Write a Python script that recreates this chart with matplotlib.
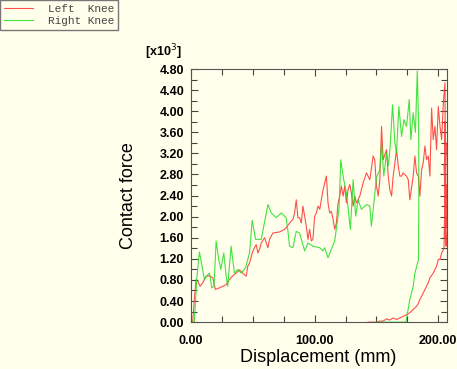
import matplotlib
matplotlib.use("Agg")
import matplotlib.pyplot as plt
from matplotlib.ticker import MultipleLocator, FuncFormatter

# Right knee (green): loading path, then unloading back to zero
right_x = [0, 2.7, 4.6, 6.8, 8.9, 10.8, 13.5, 14.9, 16.8, 18.6, 20.3, 22.4, 24.1, 26.5,
           28.4, 29.7, 32.4, 35.1, 37.8, 40.5, 44.1, 47.3, 49.5, 52.2, 56.8, 62.2, 64.9,
           68.9, 73.0, 77.0, 78.4, 79.7, 82.4, 85.1, 87.8, 91.9, 94.6, 98.6, 104.1, 106.8,
           108.1, 110.8, 116.2, 119.7, 121.1, 123.5, 125.7, 128.9, 131.1, 133.2, 135.1,
           137.8, 141.9, 144.6, 145.9, 150.0, 152.7, 154.1, 155.9, 158.1, 159.5, 161.0,
           163.0, 164.9, 166.2, 168.1, 170.3, 172.2, 174.3, 176.5, 177.8, 179.7, 181.5,
           183.0, 184.1, 184.3, 184.0, 181.1, 179.7, 177.0, 175.1, 173.8, 150.0]
right_y = [0, 0, 0.81, 1.33, 1.06, 0.81, 0.90, 0.93, 0.65, 0.68, 1.54, 1.19, 1.00, 1.31,
           0.87, 0.68, 1.44, 0.93, 1.00, 0.93, 1.03, 1.31, 1.93, 1.57, 1.57, 2.23, 2.07,
           1.98, 2.07, 1.98, 1.72, 1.44, 1.41, 1.72, 1.69, 1.35, 1.50, 1.44, 1.41, 1.35,
           1.41, 1.22, 1.54, 2.14, 3.08, 2.70, 2.45, 1.76, 2.70, 2.01, 2.32,
           2.14, 2.23, 2.20, 1.82, 2.74, 2.89, 3.40, 2.77, 3.21, 2.96, 3.30,
           4.12, 3.40, 3.21, 4.09, 3.52, 3.84, 3.71, 4.22, 3.46, 3.97, 3.60,
           4.76, 3.71, 2.58, 1.19, 0.93, 0.68, 0.43, 0.18, 0.0, 0.0]

# Left knee (red): loading path, oscillation at max displacement, unloading
left_x = [0, 1.4, 2.7, 4.1, 5.4, 7.3, 9.5, 12.2, 14.9, 17.6, 19.7, 23.0, 28.4, 31.1, 33.8,
          36.5, 39.2, 41.9, 44.6, 45.9, 47.3, 50.0, 52.7, 54.1, 55.4, 56.8, 59.5, 62.2,
          63.5, 66.2, 71.6, 75.7, 77.0, 79.7, 82.4, 83.8, 85.1, 86.5, 87.8, 89.2, 90.5,
          91.9, 93.2, 94.6, 95.9, 97.3, 98.6, 100.0, 101.4, 102.7, 104.1, 105.4, 106.8,
          109.5, 110.8, 112.2, 113.5, 114.9, 116.2, 117.6, 118.9, 120.3, 121.6, 123.0,
          124.3, 125.7, 127.0, 128.4, 129.7, 131.1, 132.4, 133.8, 136.5, 139.2, 141.9,
          144.6, 147.3, 148.6, 150.0, 151.4, 152.7, 154.1, 155.4, 158.1, 159.5, 160.8,
          162.2, 163.5, 164.9, 166.2, 167.6, 168.9, 170.3, 171.6, 174.3, 175.7, 177.0,
          179.7, 181.1, 182.4, 183.8, 185.1, 186.5, 187.8, 189.2, 190.5, 191.9, 193.2,
          194.6, 195.9, 197.3, 198.6, 200.0, 201.4, 202.7, 204.1, 205.4, 206.0, 205.2,
          206.5, 204.8, 206.3, 205.0, 206.6, 205.6, 206.2, 204.6, 203.6, 202.7, 201.4,
          200.0, 198.6, 197.3, 195.9, 193.2, 191.9, 190.5, 188.0, 186.5, 185.1, 183.8,
          182.4, 179.7, 177.0, 174.3, 171.6, 168.9, 166.2, 163.5, 160.8, 158.1, 155.4,
          152.7, 150.0, 143.2]
left_y = [0, 0.02, 0.43, 0.81, 0.78, 0.68, 0.75, 0.87, 0.88, 0.84, 0.62, 0.65, 0.71, 0.81,
          0.88, 0.93, 0.99, 0.93, 0.87, 1.06, 1.12, 1.35, 1.47, 1.31, 1.38, 1.50, 1.60,
          1.41, 1.57, 1.69, 1.71, 1.76, 1.79, 1.88, 1.95, 2.07, 2.32, 1.98, 1.98, 1.88,
          2.20, 2.01, 1.82, 1.57, 1.76, 1.54, 1.57, 2.01, 2.07, 2.20, 2.14, 2.32, 2.51,
          2.77, 2.26, 2.07, 2.10, 1.95, 1.76, 1.88, 2.26, 2.39, 2.58, 2.39, 2.58, 2.26,
          2.51, 2.61, 2.45, 2.20, 2.39, 2.26, 2.39, 2.64, 2.83, 2.70, 3.15, 3.08, 2.58,
          2.39, 2.70, 3.71, 3.08, 3.27, 2.77, 2.51, 2.39, 2.77, 3.02, 3.27, 2.96, 2.77,
          2.77, 2.83, 2.77, 2.70, 2.32, 2.77, 3.15, 2.83, 2.77, 2.39, 2.89, 3.02, 3.34,
          3.08, 3.15, 2.77, 4.06, 3.46, 3.71, 3.27, 4.09, 3.71, 3.46, 4.16, 4.54, 1.50,
          3.80, 1.80, 3.00, 1.44, 2.20, 2.60, 1.60, 3.40, 1.40, 1.35, 1.31, 1.19,
          1.19, 1.06, 1.00, 0.93, 0.84, 0.75, 0.68, 0.56, 0.49, 0.43, 0.35,
          0.30, 0.24, 0.18, 0.14, 0.11, 0.08, 0.05, 0.08, 0.04, 0.06, 0.02,
          0.02, 0.0, 0.0]

bg = "#ffffec"
fig = plt.figure(figsize=(4.57, 3.69), dpi=100, facecolor=bg)
ax = fig.add_axes([0.418, 0.127, 0.560, 0.686], facecolor=bg)

l1, = ax.plot(left_x, left_y, color="#ff3030", lw=0.8, alpha=0.85)
l2, = ax.plot(right_x, right_y, color="#22dd22", lw=0.8, alpha=0.85)

ax.set_xlim(0, 207)
ax.set_ylim(0, 4.8)
ax.xaxis.set_major_locator(MultipleLocator(100))
ax.xaxis.set_minor_locator(MultipleLocator(25))
ax.yaxis.set_major_locator(MultipleLocator(0.4))
ax.yaxis.set_minor_locator(MultipleLocator(0.2))
ax.xaxis.set_major_formatter(FuncFormatter(lambda v, p: f"{v:.2f}"))
ax.yaxis.set_major_formatter(FuncFormatter(lambda v, p: f"{v:.2f}"))
ax.tick_params(which="both", direction="in", top=True, right=True, color="#444444")
ax.tick_params(which="major", length=5, width=0.8, labelsize=9)
ax.tick_params(which="minor", length=4, width=0.8)
ax.tick_params(axis="x", pad=9)
ax.tick_params(axis="y", pad=5)
for lab in ax.get_xticklabels() + ax.get_yticklabels():
    lab.set_fontweight("bold")
    lab.set_family("Liberation Sans")
for s in ax.spines.values():
    s.set_color("#555555")
    s.set_linewidth(0.8)

ax.set_xlabel("Displacement (mm)", fontsize=13, family="Liberation Sans")
ax.set_ylabel("Contact force", fontsize=13, family="Liberation Sans")
ax.xaxis.set_label_coords(0.496, -0.108)
ax.yaxis.set_label_coords(-0.211, 0.5)

fig.text(0.317, 0.832, r"[x10$^3$]", fontsize=9, fontweight="bold",
         family="Liberation Sans", ha="left", va="bottom")

leg = fig.legend([l1, l2], ["Left  Knee", "Right Knee"], loc="upper left",
                 bbox_to_anchor=(0.0, 1.0), fancybox=False, framealpha=1,
                 facecolor=bg, edgecolor="#777777", handlelength=2.6,
                 handletextpad=1.4, borderpad=0.35, labelspacing=0.2,
                 borderaxespad=0.0,
                 prop={"family": "Liberation Mono", "size": 8})
for t in leg.get_texts():
    t.set_color("#444444")

fig.savefig("out.png", dpi=100, facecolor=bg)
